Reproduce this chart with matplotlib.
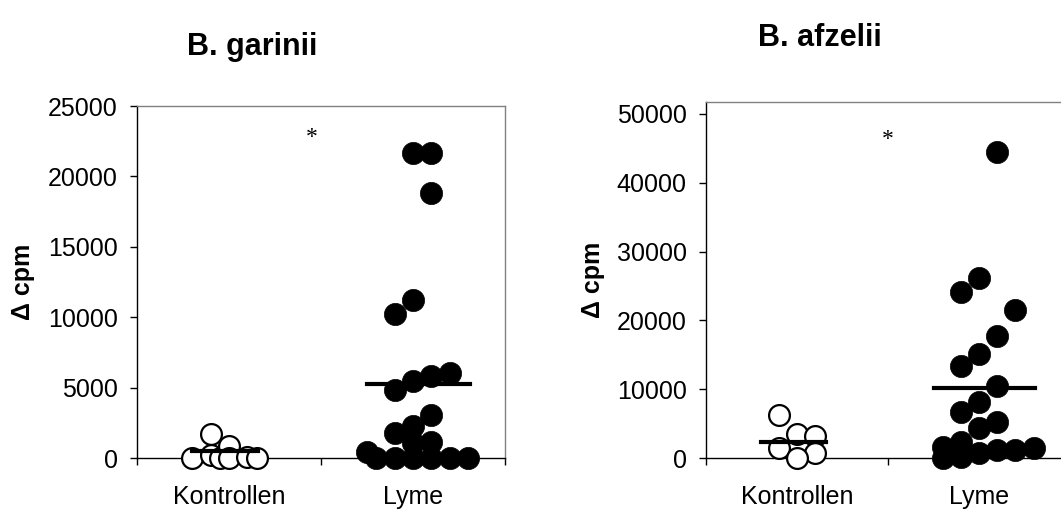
import matplotlib
matplotlib.use('Agg')
import matplotlib.pyplot as plt
import numpy as np

plt.rcParams['font.family'] = ['Liberation Sans', 'DejaVu Sans']

categories = ['Kontrollen', 'Lyme']
y_label = 'Δ cpm'

# B. garinii: values and column slot (jitter column, in steps of 0.1 around category centre)
gar_ctrl = [0, 1700, 250, 0, 900, 0, 100, 0]
gar_ctrl_slot = [-2, -1, -1, -0.5, 0, 0, 1, 1.5]
gar_lyme = [450, 0, 0, 0, 0, 0, 0, 1770, 2300, 3100, 1100, 1150,
            4850, 5450, 5850, 6080, 10250, 11200, 18850, 21650, 21700]
gar_lyme_slot = [-2.5, -2, -1, 0, 1, 2, 3, -1, 0, 1, 0, 1,
                 -1, 0, 1, 2, -1, 0, 1, 0, 1]
gar_means = [520, 5250]

# B. afzelii
afz_ctrl = [6300, 3500, 3300, 1550, 750, 0]
afz_ctrl_slot = [-1, 0, 1, -1, 1, 0]
afz_lyme = [0, 1700, 200, 2300, 700, 1200, 1200, 1450, 4450, 5250,
            6700, 8150, 10500, 13400, 15100, 17700, 21450, 24100, 26150, 44500]
afz_lyme_slot = [-2, -2, -1, -1, 0, 1, 2, 3, 0, 1,
                 -1, 0, 1, -1, 0, 1, 2, -1, 0, 1]
afz_means = [2330, 10260]

# significance markers
gar_star = 22800
afz_star = 46300

STEP = 0.1
CENTERS = [0.5, 1.5]


def draw_panel(ax, ctrl, ctrl_slot, lyme, lyme_slot, means, star, star_x, ymax, ystep):
    cx = CENTERS[0] + np.array(ctrl_slot) * STEP
    lx = CENTERS[1] + np.array(lyme_slot) * STEP
    for x, y in zip(cx, ctrl):
        ax.plot(x, y, 'o', ms=15, mfc='white', mec='black', mew=1.6, clip_on=False, zorder=3)
    for x, y in zip(lx, lyme):
        ax.plot(x, y, 'o', ms=16, mfc='black', mec='black', mew=0.5, clip_on=False, zorder=3)
    ax.plot([CENTERS[0] - 0.2, CENTERS[0] + 0.16], [means[0]] * 2, color='black', lw=3, zorder=4)
    ax.plot([CENTERS[1] - 0.25, CENTERS[1] + 0.31], [means[1]] * 2, color='black', lw=3, zorder=4)
    ax.text(star_x, star, '*', family='Liberation Serif', fontsize=17, ha='center', va='center')

    ax.set_xlim(0, 2)
    ax.set_ylim(0, ymax)
    ax.set_yticks(np.arange(0, ymax + 1, ystep))
    ax.set_xticks([0, 1, 2])
    ax.set_xticklabels([])
    ax.set_xticks(CENTERS, minor=True)
    ax.set_xticklabels(categories, minor=True)
    ax.tick_params(axis='x', which='minor', length=0, pad=19, labelsize=18)
    ax.tick_params(axis='x', which='major', length=5, width=1, direction='out')
    ax.tick_params(axis='y', length=5, width=1, pad=9, labelsize=18)
    for s in ['left', 'bottom']:
        ax.spines[s].set_color('black')
        ax.spines[s].set_linewidth(1)
    for s in ['top', 'right']:
        ax.spines[s].set_color('#808080')
        ax.spines[s].set_linewidth(1)
    ax.set_ylabel(y_label, fontsize=18, fontweight='bold')


fig = plt.figure(figsize=(10.61, 5.11), dpi=100)
W, H = 1061, 511
ax1 = fig.add_axes([137 / W, 1 - 458.3 / H, 368 / W, (458.3 - 106) / H])
ax2 = fig.add_axes([706 / W, 1 - 458.3 / H, 364 / W, (458.3 - 102) / H])

draw_panel(ax1, gar_ctrl, gar_ctrl_slot, gar_lyme, gar_lyme_slot, gar_means, gar_star, 0.95, 25000, 5000)
draw_panel(ax2, afz_ctrl, afz_ctrl_slot, afz_lyme, afz_lyme_slot, afz_means, afz_star, 1.0, 51700, 10000)
ax1.yaxis.set_label_coords(-0.278, 0.5)
ax2.yaxis.set_label_coords(-0.278, 0.5)

fig.text(252 / W, 1 - 47 / H, 'B. garinii', fontsize=22, fontweight='bold', ha='center', va='center')
fig.text(820 / W, 1 - 38 / H, 'B. afzelii', fontsize=22, fontweight='bold', ha='center', va='center')

fig.savefig('out.png', dpi=100)
